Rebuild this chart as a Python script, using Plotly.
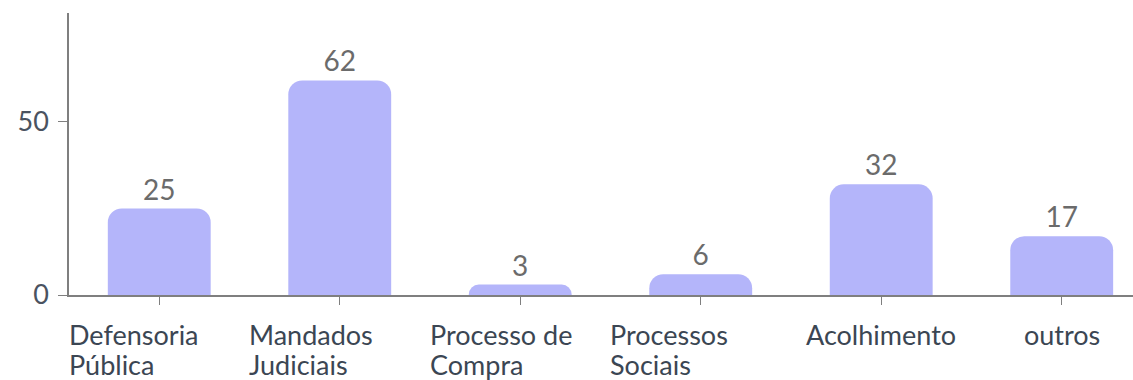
import plotly.graph_objects as go

# Category names (line breaks where the label wraps) and counts
categories = ["Defensoria<br>Pública", "Mandados<br>Judiciais", "Processo de<br>Compra",
              "Processos<br>Sociais", "Acolhimento", "outros"]
values = [25, 62, 3, 6, 32, 17]
y_ticks = [0, 50]

BAR_COLOR = "#b4b5fa"
AXIS_COLOR = "#7f7f7f"
LABEL_COLOR = "#3b4653"
VALUE_COLOR = "#6b6b6b"
FONT = "Lato, 'Open Sans', sans-serif"
LINE_STEP = 30  # px between wrapped label lines

x_pos = list(range(len(categories)))

fig = go.Figure()
fig.add_trace(go.Bar(
    x=x_pos,
    y=values,
    width=0.57,
    marker=dict(color=BAR_COLOR, cornerradius=14, line=dict(width=0)),
    text=[str(v) for v in values],
    textposition="outside",
    textfont=dict(family=FONT, size=28, color=VALUE_COLOR),
    cliponaxis=False,
    hoverinfo="skip",
))

# Category labels: wrapped labels sit flush-left in their slot, single-line ones are centred
for i, cat in enumerate(categories):
    lines = cat.split("<br>")
    wrapped = len(lines) > 1
    for k, line in enumerate(lines):
        fig.add_annotation(
            x=i - 0.5 if wrapped else i,
            y=0,
            xref="x",
            yref="y",
            text=line,
            showarrow=False,
            xanchor="left" if wrapped else "center",
            yanchor="top",
            yshift=-21 - k * LINE_STEP,
            xshift=-2 if wrapped else 0,
            font=dict(family=FONT, size=27, color=LABEL_COLOR),
        )

fig.update_layout(
    width=1133,
    height=380,
    margin=dict(l=69, r=0, t=13, b=85),
    paper_bgcolor="white",
    plot_bgcolor="white",
    showlegend=False,
    font=dict(family=FONT),
)

fig.update_xaxes(
    range=[-0.5, 5.395],
    tickvals=x_pos,
    showticklabels=False,
    ticks="outside",
    ticklen=8,
    tickcolor=AXIS_COLOR,
    showline=True,
    linecolor=AXIS_COLOR,
    linewidth=1.5,
    showgrid=False,
    zeroline=False,
)

fig.update_yaxes(
    range=[0, 81.5],
    tickvals=y_ticks,
    ticks="outside",
    ticklen=9,
    tickcolor=AXIS_COLOR,
    showline=True,
    linecolor=AXIS_COLOR,
    linewidth=1.5,
    showgrid=False,
    zeroline=False,
    ticklabelstandoff=4,
    tickfont=dict(family=FONT, size=27, color="#4a5360"),
)

fig.write_html("out.html")
